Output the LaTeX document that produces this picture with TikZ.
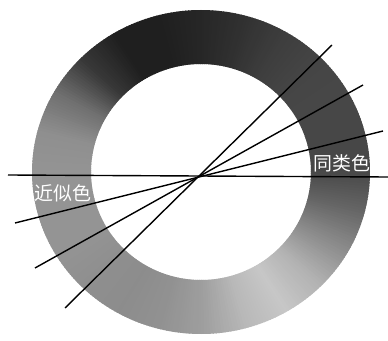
\documentclass[tikz,border=0pt]{standalone}
\usepackage{fontspec}
\newfontfamily\cjk{Noto Sans CJK SC}
\tikzset{
  ray/.style={draw=black, line width=1.4bp},
  lbl/.style={text=white, font=\cjk\fontsize{19}{19}\selectfont, inner sep=0pt}
}
\begin{document}
\begin{tikzpicture}[x=1bp,y=1bp]
\useasboundingbox (0,0) rectangle (388,341);
\fill[white] (0,0) rectangle (388,341);
% ring with angular grey gradient
\def\graylist{{28,28,28,27,24,19,15,12,12,22,44,56,58,58,58,56,55,57,62,72,78,70,55,40,28}}
\begin{scope}[shift={(201,169)}]
\foreach \a in {0,1,...,359}{
  \pgfmathsetmacro\ii{int(floor(\a/15))}
  \pgfmathsetmacro\ff{(\a-15*\ii)/15}
  \pgfmathsetmacro\LL{\graylist[\ii]*(1-\ff)+\graylist[\ii+1]*\ff}
  \pgfmathsetmacro\bb{\a+1.4}
  \fill[white!\LL!black] (\a:169 and 162) arc[start angle=\a, end angle=\bb, x radius=169, y radius=162]
     -- (\bb:110 and 108) arc[start angle=\bb, end angle=\a, x radius=110, y radius=108] -- cycle;
}
\end{scope}
% rays
\coordinate (h1) at (8,166);   \coordinate (h2) at (388,164);
\coordinate (a1) at (65,33);   \coordinate (a2) at (332,296);
\coordinate (b1) at (35,73);   \coordinate (b2) at (363,256);
\coordinate (c1) at (15,118);  \coordinate (c2) at (383,210);
\draw[ray] (h1) -- (h2);
\draw[ray] (a1) -- (a2);
\draw[ray] (b1) -- (b2);
\draw[ray] (c1) -- (c2);
% labels
\node[lbl] (near) at (63,148) {近似色};
\node[lbl] (same) at (342,178) {同类色};
\end{tikzpicture}
\end{document}
